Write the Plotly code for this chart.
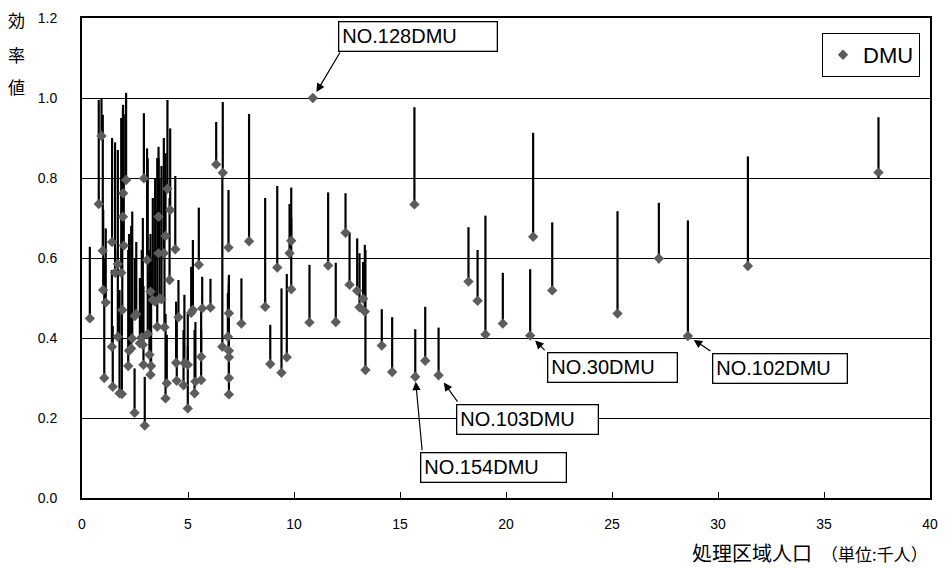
import plotly.graph_objects as go

# DMU data: population (thousand), efficiency value, upper value of the range line
pop = [0.37, 0.79, 0.92, 0.98, 1.00, 1.05, 1.12, 1.42, 1.45, 1.41, 1.56, 1.69, 1.69, 1.77, 1.85,
       1.88, 1.90, 1.93, 1.94, 1.97, 2.08, 2.18, 2.22, 2.32, 2.37, 2.48, 2.49, 2.56, 2.73, 2.82,
       2.87, 2.90, 2.92, 2.96, 3.07, 3.10, 3.18, 3.23, 3.23, 3.26, 3.34, 3.45, 3.55, 3.61, 3.61,
       3.66, 3.75, 3.86, 3.89, 3.94, 3.94, 4.00, 4.03, 4.13, 4.16, 4.40, 4.44, 4.47, 4.55, 4.79,
       4.83, 4.99, 4.99, 5.15, 5.23, 5.31, 5.35, 5.51, 5.62, 5.62, 5.67, 6.06, 6.33, 6.64, 6.62,
       6.88, 6.91, 6.93, 6.93, 6.93, 6.93, 6.93, 7.52, 7.88, 8.64, 8.88, 9.21, 9.41, 9.66, 9.79,
       9.87, 9.87, 10.73, 10.89, 11.61, 11.97, 12.43, 12.62, 12.98, 13.09, 13.26, 13.34, 13.37,
       14.14, 14.63, 15.68, 15.72, 16.19, 16.82, 18.23, 18.66, 19.03, 19.85, 21.14, 21.28, 22.18,
       25.26, 27.21, 28.58, 31.41, 37.57]
eff = [0.449, 0.735, 0.905, 0.618, 0.520, 0.300, 0.489, 0.640, 0.278, 0.378, 0.563, 0.585, 0.403, 0.262, 0.563,
       0.260, 0.470, 0.703, 0.762, 0.631, 0.795, 0.330, 0.368, 0.374, 0.399, 0.213, 0.455, 0.460, 0.387, 0.402,
       0.383, 0.333, 0.799, 0.181, 0.595, 0.410, 0.358, 0.516, 0.308, 0.330, 0.495, 0.491, 0.428, 0.703, 0.612,
       0.499, 0.497, 0.612, 0.427, 0.655, 0.249, 0.287, 0.773, 0.545, 0.720, 0.622, 0.338, 0.293, 0.452, 0.282,
       0.337, 0.333, 0.224, 0.463, 0.470, 0.262, 0.291, 0.583, 0.353, 0.295, 0.474, 0.476, 0.834, 0.813, 0.378,
       0.403, 0.626, 0.462, 0.368, 0.352, 0.300, 0.259, 0.436, 0.642, 0.478, 0.335, 0.576, 0.313, 0.352, 0.612,
       0.643, 0.522, 0.439, 1.000, 0.581, 0.440, 0.663, 0.533, 0.518, 0.477, 0.498, 0.466, 0.320,
       0.381, 0.315, 0.734, 0.303, 0.343, 0.307, 0.541, 0.493, 0.409, 0.436, 0.406, 0.653, 0.519,
       0.461, 0.599, 0.405, 0.580, 0.814]
upper = [0.628, 0.995, 1.000, 0.958, 0.720, 0.600, 0.674, 0.900, 0.430, 0.570, 0.889, 0.870, 0.620, 0.520, 0.950,
         0.480, 0.780, 0.974, 0.983, 0.960, 1.013, 0.620, 0.660, 0.680, 0.716, 0.324, 0.600, 0.640, 0.550, 0.620,
         0.700, 0.530, 0.962, 0.303, 0.874, 0.849, 0.620, 0.660, 0.580, 0.600, 0.750, 0.800, 0.850, 0.878, 0.849,
         0.800, 0.830, 0.900, 0.760, 0.862, 0.460, 0.408, 0.995, 0.750, 0.924, 0.805, 0.491, 0.440, 0.545, 0.420,
         0.508, 0.462, 0.380, 0.578, 0.645, 0.420, 0.440, 0.726, 0.478, 0.420, 0.553, 0.548, 0.940, 0.990, 0.810,
         0.512, 0.770, 0.558, 0.550, 0.540, 0.530, 0.520, 0.549, 0.960, 0.750, 0.433, 0.780, 0.524, 0.560, 0.735,
         0.776, 0.700, 0.583, 1.000, 0.764, 0.588, 0.762, 0.664, 0.649, 0.612, 0.590, 0.633, 0.620,
         0.472, 0.452, 0.977, 0.422, 0.478, 0.426, 0.677, 0.620, 0.706, 0.563, 0.572, 0.913, 0.689,
         0.717, 0.738, 0.694, 0.854, 0.952]
lower = list(eff)
lower[pop.index(27.21)] = 0.587
lower[pop.index(37.57)] = 0.800

x_ticks = [0, 5, 10, 15, 20, 25, 30, 35, 40]
y_ticks = [0.0, 0.2, 0.4, 0.6, 0.8, 1.0, 1.2]

# labelled DMUs: label, population, efficiency
label_text = ["NO.128DMU", "NO.30DMU", "NO.102DMU", "NO.103DMU", "NO.154DMU"]
label_pop = [10.89, 21.14, 28.58, 16.82, 15.72]
label_eff = [1.000, 0.406, 0.405, 0.307, 0.303]
# styling of the callouts (pixel offsets of box centre and of arrow tail, box width, standoff)
box_shift = [(105, 62), (82, -32), (92, -32), (89, -44), (78, -91)]
arrow_tail = [(28, -47), (16, 16), (24, 16), (20, 28), (7, 75)]
box_width = [151, 122, 127, 134, 138]
standoff = [7, 7, 7, 9, 5]

FONT = "Arial, Liberation Sans, sans-serif"
CJK = "Noto Sans CJK JP, sans-serif"

fig = go.Figure()
fig.add_trace(go.Scatter(
    x=pop, y=eff, mode="markers", name="DMU",
    marker=dict(symbol="diamond", size=8, color="#5c5c5c"),
    error_y=dict(type="data", symmetric=False,
                 array=[u - e for u, e in zip(upper, eff)],
                 arrayminus=[e - l for e, l in zip(eff, lower)],
                 width=0, thickness=2.2, color="black"),
))

for i, text in enumerate(label_text):
    # arrow
    fig.add_annotation(
        x=label_pop[i], y=label_eff[i], xref="x", yref="y", text="", showarrow=True,
        ax=arrow_tail[i][0], ay=arrow_tail[i][1], axref="pixel", ayref="pixel",
        arrowhead=2, arrowsize=1.4, arrowwidth=1.2, arrowcolor="black", standoff=standoff[i],
    )
    # box
    fig.add_annotation(
        x=label_pop[i], y=label_eff[i], xref="x", yref="y", text=text, showarrow=False,
        xshift=box_shift[i][0], yshift=box_shift[i][1],
        font=dict(family=FONT, size=20, color="black"),
        bgcolor="white", bordercolor="black", borderwidth=1.3, borderpad=3,
        width=box_width[i], align="left",
    )

# vertical y-axis title
for ch, ypix in zip(["効", "率", "値"], [20, 55, 86]):
    fig.add_annotation(
        x=(16 - 82) / 848, y=(498 - ypix) / 480, xref="paper", yref="paper",
        text=ch, showarrow=False, xanchor="center", yanchor="middle",
        font=dict(family=CJK, size=17, color="black"),
    )
fig.add_annotation(
    x=(690 - 82) / 848, y=-(552 - 498) / 480, xref="paper", yref="paper",
    text="処理区域人口  <span style='font-size:17px'>（単位:千人）</span>",
    showarrow=False, xanchor="left", yanchor="middle",
    font=dict(family=CJK, size=20, color="black"),
)

fig.update_layout(
    width=945, height=568,
    margin=dict(l=82, r=15, t=18, b=70, autoexpand=False),
    paper_bgcolor="white", plot_bgcolor="white",
    showlegend=True,
    legend=dict(x=(920 - 82) / 848, y=(498 - 33) / 480, xanchor="right", yanchor="top",
                bordercolor="black", borderwidth=1, bgcolor="white",
                font=dict(family=FONT, size=22, color="black"),
                itemwidth=30, tracegroupgap=0),
    font=dict(family=FONT, size=14, color="black"),
)
fig.update_xaxes(
    range=[0, 40], tickvals=x_ticks, ticktext=[str(v) for v in x_ticks],
    showgrid=False, zeroline=False, showline=True, linecolor="black", linewidth=2,
    mirror=True, ticks="inside", ticklen=6, tickcolor="black",
    tickfont=dict(family=FONT, size=14), ticklabelstandoff=12,
)
fig.update_yaxes(
    range=[0, 1.2], tickvals=y_ticks, ticktext=[f"{v:.1f}" for v in y_ticks],
    showgrid=True, gridcolor="black", gridwidth=1, zeroline=False,
    showline=True, linecolor="black", linewidth=2, mirror=True, ticks="",
    tickfont=dict(family=FONT, size=14), ticklabelstandoff=20,
)

fig.write_html("out.html", config={"displayModeBar": False},
               post_script="document.body.style.margin='0';")
